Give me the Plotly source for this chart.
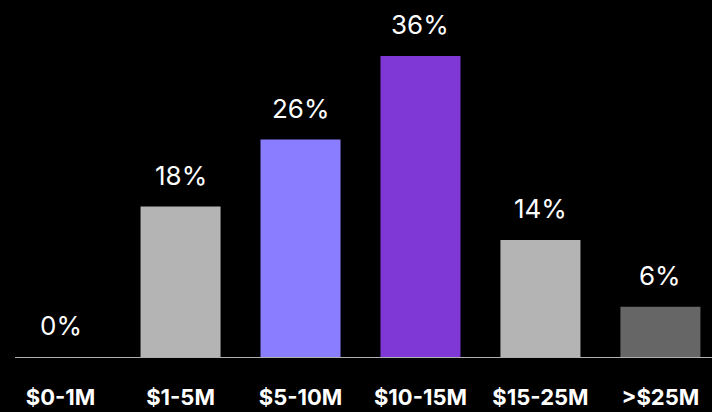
import plotly.graph_objects as go

# Share of companies by funding range
categories = ["$0-1M", "$1-5M", "$5-10M", "$10-15M", "$15-25M", ">$25M"]
shares = [0, 18, 26, 36, 14, 6]
share_labels = ["0%", "18%", "26%", "36%", "14%", "6%"]
bar_colors = ["#b4b4b4", "#b4b4b4", "#8a7dff", "#7f38d5", "#b4b4b4", "#666666"]

fig = go.Figure(
    go.Bar(
        x=categories,
        y=shares,
        marker=dict(color=bar_colors, line=dict(width=0)),
        hoverinfo="skip",
    )
)

# Percentage labels floating above each bar
for cat, val, lab in zip(categories, shares, share_labels):
    fig.add_annotation(
        x=cat, y=val, text=lab, showarrow=False,
        xanchor="center", yanchor="bottom", yshift=14,
        font=dict(family="Inter", size=26, color="#ffffff"),
    )

fig.update_layout(
    width=712, height=412,
    margin=dict(l=15, r=0, t=0, b=55),
    paper_bgcolor="#000000", plot_bgcolor="#000000",
    bargap=0.333,
    showlegend=False,
    xaxis=dict(
        range=[-0.38, 5.43],
        showgrid=False, zeroline=False,
        showline=True, linecolor="#b0b0b0", linewidth=1,
        ticks="", ticklabelstandoff=21,
        tickfont=dict(family="Inter", size=22, color="#ffffff", weight="bold"),
    ),
    yaxis=dict(
        range=[0, 42.7], visible=False, showgrid=False, zeroline=False,
    ),
)

fig.write_html("out.html")
